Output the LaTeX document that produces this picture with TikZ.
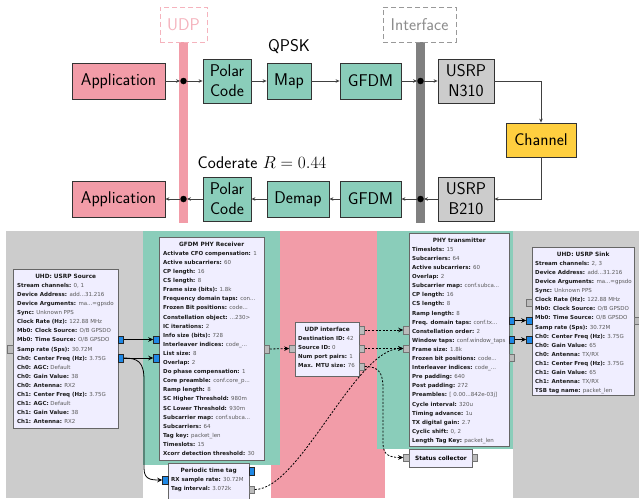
\documentclass[tikz,border=0pt]{standalone}
\usepackage{fontspec}
\newfontfamily\grcfont{DejaVu Sans}
\usetikzlibrary{arrows.meta,calc}
\definecolor{pinkc}{HTML}{F29CA8}
\definecolor{pinkl}{HTML}{F5B3BD}
\definecolor{greenc}{HTML}{8ACDBA}
\definecolor{bggray}{HTML}{CCCCCC}
\definecolor{bargray}{HTML}{808080}
\definecolor{chanc}{HTML}{FFCF3F}
\definecolor{usrpc}{HTML}{CCCCCC}
\definecolor{blkfill}{HTML}{F0EEFF}
\definecolor{blkdraw}{HTML}{666666}
\definecolor{portblue}{HTML}{1E88E5}
\definecolor{portgray}{HTML}{BBBBBB}
\newcommand{\grckv}[2]{\textbf{#1:} {\color{black!65}#2}}
\newcommand{\grctitle}[2]{\rule{0pt}{5pt}\makebox[#1][c]{\fontsize{5.8}{9.1}\selectfont\textbf{#2}}}
\tikzset{
  topbox/.style={draw=black!80, line width=0.8pt, inner sep=0, align=center,
    font=\sffamily\fontsize{17}{20}\selectfont},
  lblbox/.style={dashed, dash pattern=on 5pt off 3pt, line width=0.9pt, inner sep=0,
    minimum height=35pt, font=\sffamily\fontsize{17}{20}\selectfont},
  topdot/.style={circle, fill=black, inner sep=0, minimum size=6.5pt},
  toparrow/.style={draw=black!75, line width=0.8pt, -{Stealth[length=4pt,width=3.5pt]}},
  blk/.style={draw=blkdraw, fill=blkfill, line width=0.8pt, inner sep=0, anchor=north west},
  blktxt/.style={anchor=north west, inner sep=0, align=left,
    font=\grcfont\fontsize{5.5}{9.1}\selectfont, text=black!90},
  bport/.style={draw=black!85, fill=portblue, line width=0.4pt, inner sep=0,
    minimum width=5.5pt, minimum height=7.5pt},
  gport/.style={draw=black!55, fill=portgray, line width=0.4pt, inner sep=0,
    minimum width=5.5pt, minimum height=7.5pt},
  grcarrow/.style={draw=black, line width=0.8pt, -{Stealth[length=5pt,width=4.5pt]}},
  grcdash/.style={grcarrow, dash pattern=on 2pt off 1.6pt},
}
\begin{document}
\begin{tikzpicture}[x=1pt,y=-1pt]
\path[use as bounding box, clip] (0,0) rectangle (639,498);
\fill[white] (0,0) rectangle (639,498);

% ---------- top diagram ----------
\node[fill=pinkc, inner sep=0, minimum width=9pt, minimum height=181pt] (udpbar) at (183.5,132.5) {};
\node[fill=bargray, inner sep=0, minimum width=9pt, minimum height=181pt] (ifbar) at (420.5,132.5) {};
\node[lblbox, draw=pinkl, text=pinkl, minimum width=47pt] (udplbl) at (183.5,24.5) {UDP};
\node[lblbox, draw=black!40, text=black!45, minimum width=73pt] (iflbl) at (419.5,24.5) {Interface};

\node[topbox, fill=pinkc, minimum width=93pt, minimum height=36pt] (app1) at (118.5,81) {Application};
\node[topbox, fill=greenc, minimum width=48pt, minimum height=44pt] (pc1) at (227,81) {Polar\\Code};
\node[topbox, fill=greenc, minimum width=44pt, minimum height=36pt] (map) at (289,81) {Map};
\node[topbox, fill=greenc, minimum width=61pt, minimum height=36pt] (gfdm1) at (370.5,81) {GFDM};
\node[topbox, fill=usrpc, minimum width=56pt, minimum height=44pt] (n310) at (466,81) {USRP\\N310};
\node[topbox, fill=chanc, minimum width=70pt, minimum height=34pt] (chan) at (541,140) {Channel};
\node[topbox, fill=usrpc, minimum width=56pt, minimum height=44pt] (b210) at (466,199) {USRP\\B210};
\node[topbox, fill=greenc, minimum width=61pt, minimum height=36pt] (gfdm2) at (370.5,199) {GFDM};
\node[topbox, fill=greenc, minimum width=62pt, minimum height=36pt] (demap) at (298,199) {Demap};
\node[topbox, fill=greenc, minimum width=48pt, minimum height=44pt] (pc2) at (227,199) {Polar\\Code};
\node[topbox, fill=pinkc, minimum width=93pt, minimum height=36pt] (app2) at (118.5,199) {Application};

\node[font=\sffamily\fontsize{17}{20}\selectfont] (qpsk) at (289,47) {QPSK};
\node[font=\sffamily\fontsize{17}{20}\selectfont] (crate) at (262,163) {Coderate $R=0.44$};

\node[topdot] (d1) at (183.5,81) {};
\node[topdot] (d2) at (420.5,81) {};
\node[topdot] (d3) at (183.5,199) {};
\node[topdot] (d4) at (420.5,199) {};

\draw[toparrow] (app1) -- (d1);
\draw[toparrow] (d1) -- (pc1);
\draw[toparrow] (pc1) -- (map);
\draw[toparrow] (map) -- (gfdm1);
\draw[toparrow] (gfdm1) -- (d2);
\draw[toparrow] (d2) -- (n310);
\draw[toparrow] (n310.east) -| (chan.north);
\draw[toparrow] (chan.south) |- (b210.east);
\draw[toparrow] (b210) -- (d4);
\draw[toparrow] (d4) -- (gfdm2);
\draw[toparrow] (gfdm2) -- (demap);
\draw[toparrow] (demap) -- (pc2);
\draw[toparrow] (pc2) -- (d3);
\draw[toparrow] (d3) -- (app2);

% ---------- bottom screenshot ----------
\fill[bggray] (6,231) rectangle (639,498);
\fill[white] (143,231) rectangle (513,498);
\fill[pinkc] (271,231) rectangle (385,498);
\fill[greenc] (143,231) rectangle (280,465);
\fill[greenc] (377,231) rectangle (513,449);

% USRP source
\node[blk, minimum width=105pt, minimum height=159pt] (src) at (13,269) {};
\node[blktxt] (srct) at (17,273) {\grctitle{97pt}{UHD: USRP Source}\\
\grckv{Stream channels}{0, 1}\\
\grckv{Device Address}{add...31.216}\\
\grckv{Device Arguments}{ma...=gpsdo}\\
\grckv{Sync}{Unknown PPS}\\
\grckv{Clock Rate (Hz)}{122.88 MHz}\\
\grckv{Mb0: Clock Source}{O/B GPSDO}\\
\grckv{Mb0: Time Source}{O/B GPSDO}\\
\grckv{Samp rate (Sps)}{30.72M}\\
\grckv{Ch0: Center Freq (Hz)}{3.75G}\\
\grckv{Ch0: AGC}{Default}\\
\grckv{Ch0: Gain Value}{38}\\
\grckv{Ch0: Antenna}{RX2}\\
\grckv{Ch1: Center Freq (Hz)}{3.75G}\\
\grckv{Ch1: AGC}{Default}\\
\grckv{Ch1: Gain Value}{38}\\
\grckv{Ch1: Antenna}{RX2}};

% GFDM PHY receiver
\node[blk, minimum width=105pt, minimum height=223pt] (rx) at (159,237) {};
\node[blktxt] (rxt) at (163,241) {\grctitle{97pt}{GFDM PHY Receiver}\\
\grckv{Activate CFO compensation}{1}\\
\grckv{Active subcarriers}{60}\\
\grckv{CP length}{16}\\
\grckv{CS length}{8}\\
\grckv{Frame size (bits)}{1.8k}\\
\grckv{Frequency domain taps}{con...}\\
\grckv{Frozen Bit positions}{code...}\\
\grckv{Constellation object}{...230>}\\
\grckv{IC iterations}{2}\\
\grckv{Info size (bits)}{728}\\
\grckv{Interleaver indices}{code\_...}\\
\grckv{List size}{8}\\
\grckv{Overlap}{2}\\
\grckv{Do phase compensation}{1}\\
\grckv{Core preamble}{conf.core\_p...}\\
\grckv{Ramp length}{8}\\
\grckv{SC Higher Threshold}{980m}\\
\grckv{SC Lower Threshold}{930m}\\
\grckv{Subcarrier map}{conf.subca...}\\
\grckv{Subcarriers}{64}\\
\grckv{Tag key}{packet\_len}\\
\grckv{Timeslots}{15}\\
\grckv{Xcorr detection threshold}{30}};

% Periodic time tag
\node[blk, minimum width=81pt, minimum height=45pt] (ptag) at (168,463) {};
\node[blktxt] (ptagt) at (171,467) {\grctitle{75pt}{Periodic time tag}\\
\grckv{RX sample rate}{30.72M}\\
\grckv{Tag interval}{3.072k}};

% UDP interface
\node[blk, minimum width=64pt, minimum height=54pt] (udp) at (295,322) {};
\node[blktxt] (udpt) at (298,326) {\grctitle{58pt}{UDP interface}\\
\grckv{Destination ID}{42}\\
\grckv{Source ID}{0}\\
\grckv{Num port pairs}{1}\\
\grckv{Max. MTU size}{76}};

% PHY transmitter
\node[blk, minimum width=100pt, minimum height=213pt] (tx) at (409,233) {};
\node[blktxt] (txt) at (412,237) {\grctitle{94pt}{PHY transmitter}\\
\grckv{Timeslots}{15}\\
\grckv{Subcarriers}{64}\\
\grckv{Active subcarriers}{60}\\
\grckv{Overlap}{2}\\
\grckv{Subcarrier map}{conf.subca...}\\
\grckv{CP length}{16}\\
\grckv{CS length}{8}\\
\grckv{Ramp length}{8}\\
\grckv{Freq. domain taps}{conf.tx...}\\
\grckv{Constellation order}{2}\\
\grckv{Window taps}{conf.window\_taps}\\
\grckv{Frame size}{1.8k}\\
\grckv{Frozen bit positions}{code...}\\
\grckv{Interleaver indices}{code\_...}\\
\grckv{Pre padding}{640}\\
\grckv{Post padding}{272}\\
\grckv{Preambles}{[ 0.00...842e-03j]}\\
\grckv{Cycle interval}{320u}\\
\grckv{Timing advance}{1u}\\
\grckv{TX digital gain}{2.7}\\
\grckv{Cyclic shift}{0, 2}\\
\grckv{Length Tag Key}{packet\_len}};

% Status collector
\node[blk, minimum width=63pt, minimum height=18pt, font=\grcfont\fontsize{5.8}{8}\selectfont] (stat) at (409,449) {\textbf{Status collector}};

% USRP sink
\node[blk, minimum width=102pt, minimum height=148pt] (sink) at (532,247) {};
\node[blktxt] (sinkt) at (535,251) {\grctitle{96pt}{UHD: USRP Sink}\\
\grckv{Stream channels}{2, 3}\\
\grckv{Device Address}{add...31.216}\\
\grckv{Device Arguments}{ma...=gpsdo}\\
\grckv{Sync}{Unknown PPS}\\
\grckv{Clock Rate (Hz)}{122.88 MHz}\\
\grckv{Mb0: Clock Source}{O/B GPSDO}\\
\grckv{Mb0: Time Source}{O/B GPSDO}\\
\grckv{Samp rate (Sps)}{30.72M}\\
\grckv{Ch0: Center Freq (Hz)}{3.75G}\\
\grckv{Ch0: Gain Value}{65}\\
\grckv{Ch0: Antenna}{TX/RX}\\
\grckv{Ch1: Center Freq (Hz)}{3.75G}\\
\grckv{Ch1: Gain Value}{65}\\
\grckv{Ch1: Antenna}{TX/RX}\\
\grckv{TSB tag name}{packet\_len}};

% ports
\node[gport] (srcM) at (10,349) {};
\node[bport] (srcO1) at (120.8,339.5) {};
\node[bport] (srcO2) at (120.8,358) {};
\node[bport] (rxI1) at (156.2,339.5) {};
\node[bport] (rxI2) at (156.2,358) {};
\node[gport] (rxO) at (266.8,349) {};
\node[bport] (ptagI) at (165.2,480) {};
\node[bport] (ptagO) at (251.8,471) {};
\node[gport] (ptagM) at (251.8,489.5) {};
\node[gport] (udpI) at (292.2,348.5) {};
\node[gport] (udpO1) at (361.8,330) {};
\node[gport] (udpO2) at (361.8,348.5) {};
\node[gport] (udpO3) at (361.8,366.5) {};
\node[gport] (txI1) at (406.2,330) {};
\node[gport] (txI2) at (406.2,348.5) {};
\node[bport] (txO1) at (511.8,320.5) {};
\node[bport] (txO2) at (511.8,339.5) {};
\node[gport] (txM) at (511.8,357.5) {};
\node[gport] (statI) at (406.2,457.5) {};
\node[gport] (statO) at (474.8,457.5) {};
\node[gport] (sinkM) at (529.2,302.5) {};
\node[bport] (sinkI1) at (529.2,320.5) {};
\node[bport] (sinkI2) at (529.2,339.5) {};
\node[gport] (sinkO) at (636.8,320.5) {};

% connections
\draw[grcarrow] (srcO1.east) -- (rxI1.west);
\draw[grcarrow] (srcO2.east) -- (rxI2.west);
\draw[grcarrow] (srcO2.east) .. controls (138,358) and (144,362) .. (144,380) -- (144,468) .. controls (144,479) and (150,480) .. (ptagI.west);
\draw[grcdash] (rxO.east) -- (udpI.west);
\draw[grcdash] (udpO1.east) -- (txI1.west);
\draw[grcdash] (udpO2.east) -- (txI2.west);
\draw[grcdash] (udpO3.east) .. controls (378,366.5) and (383,372) .. (383,388) -- (383,444) .. controls (383,455) and (390,457.5) .. (statI.west);
\draw[grcdash] (ptagM.east) .. controls (300,489.5) and (355,348.5) .. (txI2.west);
\draw[grcarrow] (txO1.east) -- (sinkI1.west);
\draw[grcarrow] (txO2.east) -- (sinkI2.west);
\end{tikzpicture}
\end{document}
